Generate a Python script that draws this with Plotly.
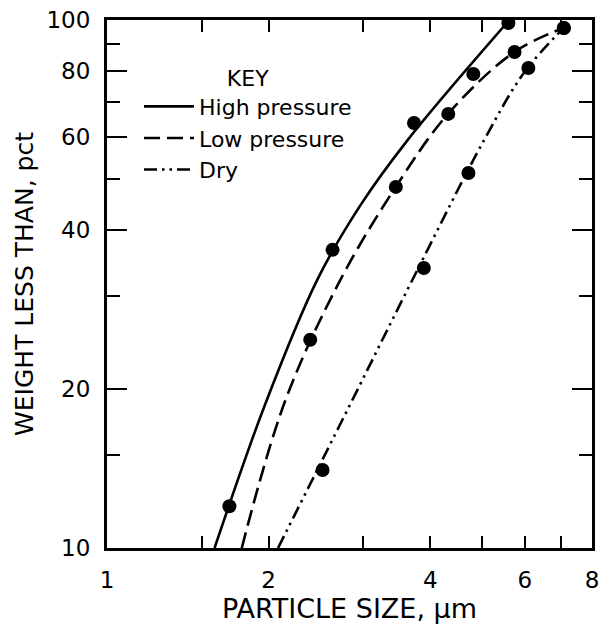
import plotly.graph_objects as go
import numpy as np

# Measured data points
hp_x = [1.69, 2.63, 3.73, 4.81, 5.59]
hp_y = [12.0, 36.7, 63.8, 79.0, 98.7]
lp_x = [2.39, 3.45, 4.32, 5.74, 7.09]
lp_y = [24.8, 48.3, 66.4, 87.0, 96.6]
dry_x = [2.52, 3.89, 4.71, 6.09, 7.09]
dry_y = [14.05, 33.9, 51.3, 81.1, 96.6]

# Fitted curves
hp_cx = [1.586, 1.968, 2.463, 2.965, 3.632, 5.615]
hp_cy = [10.0, 18.66, 32.2, 44.6, 59.3, 100.0]
lp_cx = [1.782, 2.146, 2.720, 3.449, 4.315, 5.737, 7.087]
lp_cy = [10.0, 18.98, 32.2, 48.3, 66.4, 87.0, 96.6]
dry_cx = [2.082, 2.803, 3.727, 5.04, 5.99, 7.087]
dry_cy = [10.0, 18.26, 32.6, 59.3, 79.7, 96.6]

x_tickvals = [1, 2, 4, 6, 8]
x_ticktext = ["1", "2", "4", "6", "8"]
x_minor = [1.5, 3, 5, 7]
y_tickvals = [10, 20, 40, 60, 80, 100]
y_ticktext = ["10", "20", "40", "60", "80", "100"]
y_minor = [15, 30, 50, 70, 90]

FONT = "DejaVu Sans"
fig = go.Figure()

fig.add_trace(go.Scatter(x=hp_cx, y=hp_cy, mode="lines", name="High pressure",
                         line=dict(color="black", width=2.6, shape="spline", smoothing=1.0)))
fig.add_trace(go.Scatter(x=lp_cx, y=lp_cy, mode="lines", name="Low pressure",
                         line=dict(color="black", width=2.6, shape="spline", smoothing=1.0,
                                   dash="16px,7px")))
fig.add_trace(go.Scatter(x=dry_cx, y=dry_cy, mode="lines", name="Dry",
                         line=dict(color="black", width=2.6, shape="spline", smoothing=1.0,
                                   dash="13px,5px,2.5px,5px,2.5px,5px")))

for xs, ys in [(hp_x, hp_y), (lp_x, lp_y), (dry_x, dry_y)]:
    fig.add_trace(go.Scatter(x=xs, y=ys, mode="markers", showlegend=False,
                             marker=dict(color="black", size=14)))

fig.update_layout(
    width=600, height=628,
    margin=dict(l=107, r=8, t=20, b=80),
    paper_bgcolor="white", plot_bgcolor="white",
    font=dict(family=FONT, color="black", size=23),
    showlegend=True,
    legend=dict(x=0.066, y=0.93, xanchor="left", yanchor="top",
                bgcolor="rgba(0,0,0,0)", font=dict(size=22, family=FONT),
                title=dict(text="KEY", side="top center", font=dict(size=22, family=FONT)),
                itemwidth=50, tracegroupgap=0),
)
fig.update_xaxes(type="log", range=[0, np.log10(8)], tickmode="array",
                 tickvals=x_tickvals, ticktext=x_ticktext, automargin=False,
                 ticks="inside", ticklen=12, tickwidth=2, tickcolor="black",
                 minor=dict(tickmode="array", tickvals=x_minor, ticks="inside", ticklen=12,
                            tickwidth=2, tickcolor="black", showgrid=False),
                 showline=True, linewidth=3, linecolor="black", mirror="allticks",
                 showgrid=False, zeroline=False, ticklabelstandoff=9,
                 ticklabeloverflow="allow",
                 tickfont=dict(size=23, family=FONT),
                 title=dict(text="PARTICLE SIZE, μm", font=dict(size=27, family=FONT), standoff=4))
fig.update_yaxes(type="log", range=[1, 2], tickmode="array",
                 tickvals=y_tickvals, ticktext=y_ticktext, automargin=False,
                 ticks="inside", ticklen=20, tickwidth=2, tickcolor="black",
                 minor=dict(tickmode="array", tickvals=y_minor, ticks="inside", ticklen=13,
                            tickwidth=2, tickcolor="black", showgrid=False),
                 showline=True, linewidth=3, linecolor="black", mirror="allticks",
                 showgrid=False, zeroline=False, ticklabelstandoff=9,
                 ticklabeloverflow="allow",
                 tickfont=dict(size=23, family=FONT),
                 title=dict(text="WEIGHT LESS THAN, pct", font=dict(size=25, family=FONT), standoff=6))

fig.write_html("out.html", config={"displayModeBar": False},
               post_script="document.body.style.margin='0';document.body.style.overflow='hidden';")
